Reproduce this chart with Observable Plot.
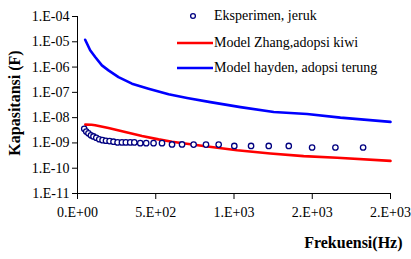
<!DOCTYPE html>
<html><head><meta charset="utf-8">
<script src="https://cdn.jsdelivr.net/npm/d3@7"></script>
<script src="https://cdn.jsdelivr.net/npm/@observablehq/plot@0.6"></script>
<style>
body{margin:0;background:#fff;}
#wrap{position:relative;width:411px;height:259px;font-family:"Liberation Serif","Tinos","DejaVu Serif",serif;}
.leg{position:absolute;font-size:14px;color:#000;white-space:nowrap;line-height:16px;height:16px;font-family:"Liberation Serif","Tinos","DejaVu Serif",serif;}
.sym{position:absolute;}
</style></head><body><div id="wrap"></div>
<script>
// Data
const seriesNames = ["Eksperimen, jeruk", "Model Zhang,adopsi kiwi", "Model hayden, adopsi terung"];
const seriesColors = ["#000080", "#ff0000", "#0000ff"];

const expFreq = [43, 56, 70, 86, 102, 120, 139, 160, 182, 205, 230, 256, 284, 309, 337, 363, 401, 439, 486, 540, 604, 668, 742, 821, 902, 1002, 1109, 1222, 1350, 1499, 1648, 1825];
const expCap = [3.6e-9, 2.8e-9, 2.4e-9, 2.0e-9, 1.8e-9, 1.6e-9, 1.4e-9, 1.29e-9, 1.22e-9, 1.18e-9, 1.12e-9, 1.05e-9, 1.05e-9, 1.05e-9, 1.05e-9, 1.05e-9, 0.98e-9, 0.98e-9, 0.98e-9, 0.98e-9, 0.87e-9, 0.87e-9, 0.86e-9, 0.86e-9, 0.86e-9, 0.76e-9, 0.76e-9, 0.76e-9, 0.76e-9, 0.66e-9, 0.66e-9, 0.66e-9];

const zhangFreq = [50, 90, 113, 198, 305, 412, 518, 604, 805, 1020, 1232, 1445, 1659, 2000];
const zhangCap = [5.3e-9, 5.2e-9, 5.0e-9, 3.9e-9, 2.7e-9, 1.87e-9, 1.38e-9, 1.12e-9, 7.6e-10, 5.1e-10, 3.8e-10, 3.0e-10, 2.6e-10, 1.95e-10];

const haydenFreq = [49, 81, 113, 156, 198, 262, 348, 454, 582, 700, 849, 1041, 1254, 1467, 1680, 2000];
const haydenCap = [1.2e-5, 4.6e-6, 2.5e-6, 1.17e-6, 7.4e-7, 4.0e-7, 2.2e-7, 1.4e-7, 8.4e-8, 6.0e-8, 4.1e-8, 2.6e-8, 1.66e-8, 1.4e-8, 1.0e-8, 6.8e-9];

const xTicks = [0, 500, 1000, 1500, 2000];
const xTickLabels = ["0.E+00", "5.E+02", "1.E+03", "2.E+03", "2.E+03"];
const yTicks = [1e-11, 1e-10, 1e-9, 1e-8, 1e-7, 1e-6, 1e-5, 1e-4];
const yTickLabels = ["1.E-11", "1.E-10", "1.E-09", "1.E-08", "1.E-07", "1.E-06", "1.E-05", "1.E-04"];
const xTitle = "Frekuensi(Hz)";
const yTitle = "Kapasitansi (F)";

const toRows = (xs, ys) => xs.map((f, i) => ({f, c: ys[i]}));
const expData = toRows(expFreq, expCap);
const zhangData = toRows(zhangFreq, zhangCap);
const haydenData = toRows(haydenFreq, haydenCap);

const serif = "Liberation Serif, Tinos, DejaVu Serif, serif";
const chart = Plot.plot({
  width: 411, height: 259,
  marginLeft: 77, marginRight: 21, marginTop: 16, marginBottom: 66,
  style: {fontFamily: serif, fontSize: "14px", background: "white", color: "black"},
  x: {domain: [0, 2000]},
  y: {type: "log", domain: [1e-11, 1e-4]},
  marks: [
    Plot.axisY({ticks: yTicks, tickFormat: d => yTickLabels[yTicks.indexOf(d)], tickSize: 5, tickPadding: 3, label: null, stroke: "black", fill: "black", fontFamily: serif}),
    Plot.axisX({ticks: xTicks, tickFormat: d => xTickLabels[xTicks.indexOf(d)], tickSize: 6, tickPadding: 8, label: null, stroke: "black", fill: "black", fontFamily: serif}),
    Plot.ruleX([0], {stroke: "black", strokeWidth: 1}),
    Plot.ruleY([1e-11], {stroke: "black", strokeWidth: 1}),
    Plot.line(haydenData, {x: "f", y: "c", stroke: seriesColors[2], strokeWidth: 2.6}),
    Plot.line(zhangData, {x: "f", y: "c", stroke: seriesColors[1], strokeWidth: 2.6}),
    Plot.dot(expData, {x: "f", y: "c", r: 2.7, stroke: seriesColors[0], strokeWidth: 1.3, fill: "white"}),
    Plot.text([yTitle], {frameAnchor: "left", dx: -63, dy: -2, rotate: -90, textAnchor: "middle", lineAnchor: "middle", fontWeight: "bold", fontSize: 16, fill: "black", fontFamily: serif}),
    Plot.text([xTitle], {frameAnchor: "bottom-right", dx: 12, dy: 54, textAnchor: "end", fontWeight: "bold", fontSize: 16, fill: "black", fontFamily: serif})
  ]
});
const wrap = document.getElementById("wrap");
wrap.appendChild(chart);

// Legend (HTML overlay)
const legRows = [{y: 16, kind: "dot"}, {y: 43, kind: "line"}, {y: 68, kind: "line"}];
legRows.forEach((row, i) => {
  const s = document.createElementNS("http://www.w3.org/2000/svg", "svg");
  s.setAttribute("width", 40); s.setAttribute("height", 10);
  s.setAttribute("class", "sym");
  s.style.left = "175px"; s.style.top = (row.y - 5) + "px";
  if (row.kind === "dot") {
    s.innerHTML = `<circle cx="18" cy="5" r="2.4" fill="white" stroke="${seriesColors[i]}" stroke-width="1.3"/>`;
  } else {
    s.innerHTML = `<line x1="2" x2="38" y1="5" y2="5" stroke="${seriesColors[i]}" stroke-width="2.6"/>`;
  }
  wrap.appendChild(s);
  const t = document.createElement("div");
  t.className = "leg";
  t.style.left = "214px"; t.style.top = (row.y - 8) + "px";
  t.textContent = seriesNames[i];
  wrap.appendChild(t);
});
</script></body></html>
